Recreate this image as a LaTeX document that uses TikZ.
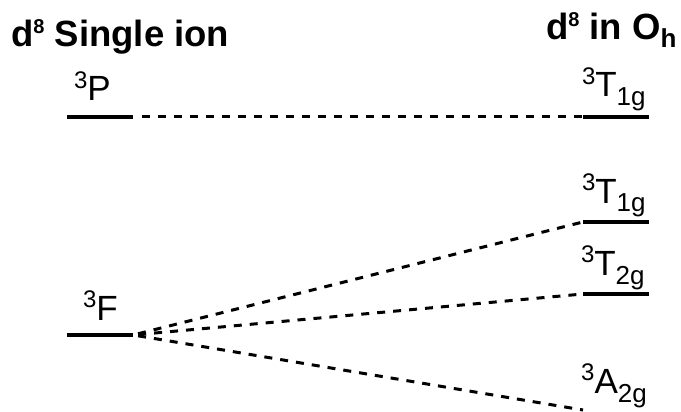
\documentclass[tikz,border=0pt]{standalone}
\usepackage{fontspec}
\setmainfont{Liberation Sans}
\usetikzlibrary{positioning}

% raised and lowered parts of the term symbols
\newcommand{\spin}[1]{\raisebox{13pt}{\fontsize{24}{24}\selectfont #1}}
\newcommand{\irrep}[1]{\raisebox{-9pt}{\fontsize{26}{26}\selectfont #1}}
\newcommand{\conf}[1]{\raisebox{13pt}{\fontsize{20}{20}\selectfont #1}}
\newcommand{\point}[1]{\raisebox{-8pt}{\fontsize{26}{26}\selectfont #1}}

\begin{document}
\begin{tikzpicture}[x=1pt,y=-1pt,
% Level and connector style
    level/.style={rectangle,fill=black,inner sep=0pt,
		minimum width=66pt,minimum height=3.5pt},
    link/.style={line width=3pt,dash pattern=on 8pt off 8pt},
% Text style
    title/.style={font=\bfseries\fontsize{36.5}{40}\selectfont,
		inner sep=0pt,anchor=base west},
    term/.style={font=\fontsize{35}{38}\selectfont,
		inner sep=0pt,anchor=base west}
    ]
\useasboundingbox (0,0) rectangle (681,412);
%% Headings
    \node (free) [title] at (11,47) {d\conf{8} Single ion};
    \node (oct) [title] at (546,40) {d\conf{8} in O\point{h}};
%% Levels of the free ion
    \node (P) [level] at (100,117) {};
    \node (F) [level] at (100,335) {};
%% Levels in the octahedral field
    \node (T1a) [level] at (616,117) {};
    \node (T1b) [level] at (616,222) {};
    \node (T2) [level] at (616,294) {};
    \coordinate (A2) at (583,410);
%% Labels
    \node (lP) [term] at ([xshift=7pt,yshift=16pt]P.west) {\spin{3}P};
    \node (lF) [term] at ([xshift=16pt,yshift=15pt]F.west) {\spin{3}F};
    \node (lT1a) [term] at ([xshift=-1pt,yshift=20pt]T1a.west) {\spin{3}T\irrep{1g}};
    \node (lT1b) [term] at ([xshift=-1pt,yshift=19pt]T1b.west) {\spin{3}T\irrep{1g}};
    \node (lT2) [term] at ([xshift=-2pt,yshift=19pt]T2.west) {\spin{3}T\irrep{2g}};
    \node (lA2) [term] at (581,393) {\spin{3}A\irrep{2g}};
%% Correlation lines
    \draw [link,shorten <=9pt] (P.east) -- (T1a.west);
    \draw [link,shorten <=5pt] (F.east) -- (T1b.west);
    \draw [link,shorten <=5pt] (F.east) -- (T2.west);
    \draw [link,shorten <=5pt] (F.east) -- (A2);

\end{tikzpicture}
\end{document}
